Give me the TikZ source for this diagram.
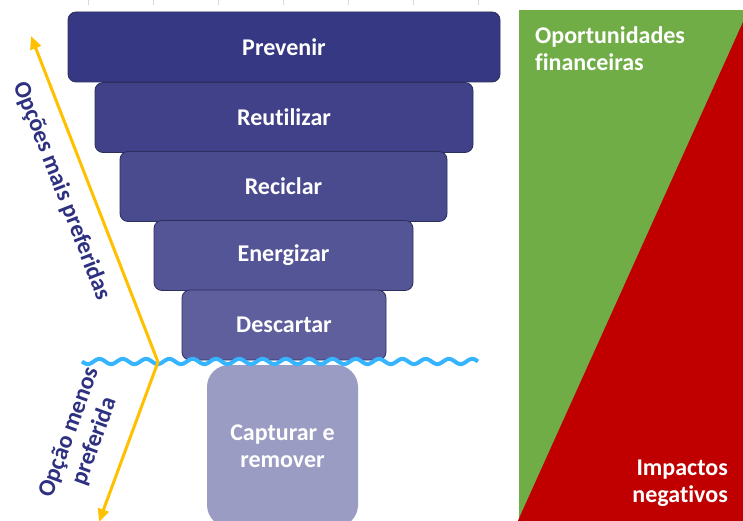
\documentclass[tikz,border=0pt]{standalone}
\usepackage{fontspec}
\setmainfont{Carlito}[RawFeature={-liga;-clig}]
\usetikzlibrary{arrows.meta}
\definecolor{cprev}{HTML}{373883}
\definecolor{creut}{HTML}{404188}
\definecolor{crec}{HTML}{4A4B8F}
\definecolor{cener}{HTML}{545597}
\definecolor{cdesc}{HTML}{5F5F9E}
\definecolor{ccap}{HTML}{9B9CC3}
\definecolor{edgec}{HTML}{2B2F5E}
\definecolor{navy}{HTML}{2E3080}
\definecolor{wavec}{HTML}{36B4FF}
\definecolor{arrowc}{HTML}{FFC000}
\definecolor{greenp}{HTML}{70AD47}
\definecolor{redp}{HTML}{C00000}
\definecolor{tickc}{HTML}{D9D9D9}
\begin{document}
\begin{tikzpicture}[x=1pt,y=-1pt,
  font=\bfseries\fontsize{24}{27}\selectfont,
  tier/.style={draw=edgec, line width=0.8pt, rounded corners=8pt, text=white, inner sep=0pt, minimum height=70pt},
  wave/.style={draw=wavec, line width=4pt},
  yarrow/.style={draw=arrowc, line width=3pt, -{Triangle[length=13pt,width=11pt]}},
  lbl/.style={text=navy, align=center, inner sep=0pt},
  paneltext/.style={text=white, inner sep=0pt}
]
\useasboundingbox (0,0) rectangle (743,521);
\clip (0,0) rectangle (743,521);
% faint ticks at top
\foreach \t in {88,153,218,283,348,413,478} \draw[tickc, line width=0.8pt] (\t,0) -- (\t,5);
% right panel
\fill[greenp] (519,10) rectangle (743,521);
\fill[redp] (743,22) -- (743,525) -- (516,525) -- cycle;
\node[paneltext, anchor=north west, align=left] (opp) at (535,26) {Oportunidades\\financeiras};
\node[paneltext, anchor=north east, align=right] (imp) at (728,460) {Impactos\\negativos};
% capture box
\node[fill=ccap, rounded corners=22pt, minimum width=151pt, minimum height=162pt, text=white, align=center, inner sep=0pt] (cap) at (282.5,446) {Capturar e\\remover};
% tiers
\node[tier, fill=cprev, minimum width=432pt] (prev) at (284,47) {Prevenir};
\node[tier, fill=creut, minimum width=378pt] (reut) at (284,117.5) {Reutilizar};
\node[tier, fill=crec, minimum width=327pt] (rec) at (283.5,186.5) {Reciclar};
\node[tier, fill=cener, minimum width=259pt] (ener) at (283.5,255.5) {Energizar};
\node[tier, fill=cdesc, minimum width=204pt] (desc) at (284,325) {Descartar};
% wave
\draw[wave] plot[domain=82:478, samples=400, smooth] (\x, {361.5+2.6*sin((\x-82)*15.45)});
% arrows
\coordinate (v) at (158,362);
\coordinate (topend) at (31,36);
\coordinate (botend) at (99,522);
\draw[yarrow] (v) -- (topend);
\draw[yarrow] (v) -- (botend);
% labels
\node[lbl, rotate=-68.7] (more) at (62,191) {Opções mais preferidas};
\node[lbl, rotate=70] (less) at (82,437) {Opção menos\\preferida};
\end{tikzpicture}
\end{document}
